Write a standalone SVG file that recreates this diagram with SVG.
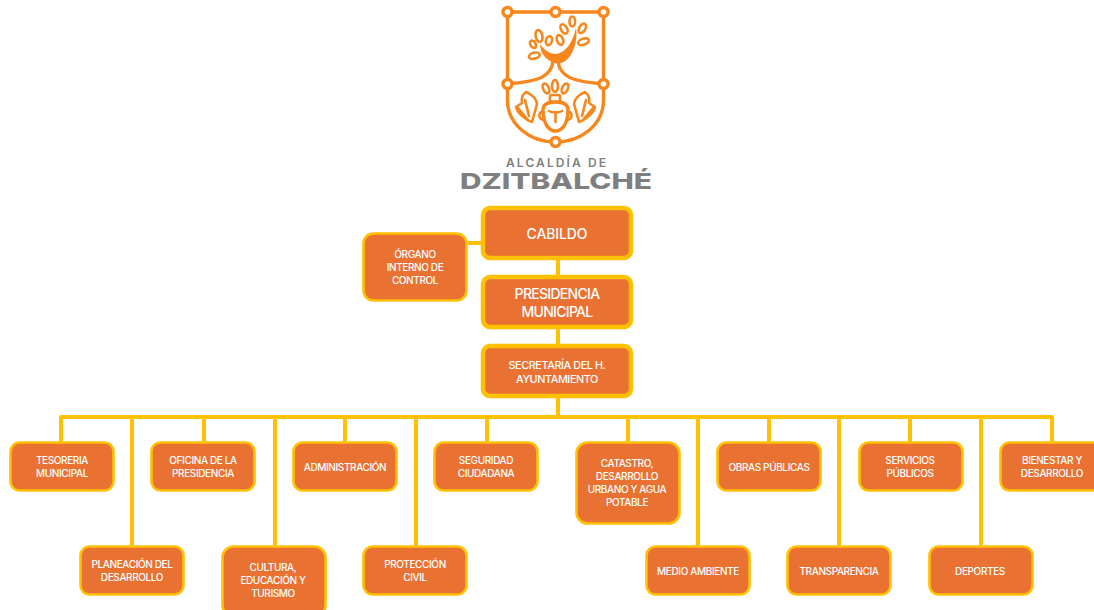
<svg xmlns="http://www.w3.org/2000/svg" width="1094" height="610" viewBox="0 0 1094 610">
<style>
.b{fill:#e97132;stroke:#ffc000;stroke-width:2.6}
.h{stroke-width:4.5}
.t{fill:#fff;font-family:Inter,"Liberation Sans",sans-serif;font-size:10px;font-weight:500;letter-spacing:-.38px;text-anchor:middle}
.m{font-size:10.8px;letter-spacing:-.4px}
.l{font-size:14px;letter-spacing:-.7px}
.c{fill:none;stroke:#ffc000;stroke-width:4}
.o{fill:none;stroke:#f7871d;stroke-width:3.4;stroke-linecap:round;stroke-linejoin:round}
.f{stroke-width:2.6}
.s{fill:#f7871d;stroke:none}
.d{fill:#fff;stroke:#f7871d;stroke-width:3.4}
.g{fill:#7f7f7f;font-family:Inter,"Liberation Sans",sans-serif;text-anchor:middle}
</style>
<rect width="1094" height="610" fill="#fff"/>
<g id="logo">
<path class="o" d="M507.500 84V12H603.500V84V100C603.500 124 582 142 555.500 142C529 142 507.500 124 507.500 100V84"/>
<path class="o" d="M507.500 84C530 82 552 80 553 60M603.500 84C581 82 559 80 558 60"/>
<path class="s" d="M540 44C544 50 550 54 556 54C565 53 572 44 576 28C579 44 569 67 555 63C547 61 540 54 540 44Z"/>
<g class="o f">
<ellipse cx="572.300" cy="21.500" rx="2.800" ry="5"/>
<ellipse cx="564" cy="29" rx="3" ry="5" transform="rotate(-30 564 29)"/>
<ellipse cx="582.300" cy="28.300" rx="3" ry="5.200" transform="rotate(30 582.300 28.300)"/>
<ellipse cx="583.500" cy="41.700" rx="3" ry="5.500" transform="rotate(70 583.500 41.700)"/>
<ellipse cx="560" cy="40" rx="3" ry="5" transform="rotate(-20 560 40)"/>
<ellipse cx="549" cy="40.700" rx="3" ry="4.600" transform="rotate(15 549 40.700)"/>
<ellipse cx="539" cy="36" rx="3.400" ry="6" transform="rotate(-10 539 36)"/>
<ellipse cx="533" cy="44.300" rx="2.600" ry="4" transform="rotate(-30 533 44.300)"/>
<ellipse cx="534.300" cy="55.700" rx="3" ry="5.500" transform="rotate(75 534.300 55.700)"/>
<ellipse cx="555" cy="86" rx="3" ry="6"/>
<ellipse cx="546" cy="88.500" rx="2.800" ry="5.200" transform="rotate(-25 546 88.500)"/>
<ellipse cx="565" cy="88.500" rx="2.800" ry="5.200" transform="rotate(25 565 88.500)"/>
<rect x="550" y="95" width="10" height="7" rx="2"/>
<path d="M526 92C533 95 537 100 537 104L532 122C525 120 517 112 516 107L522 103C521 98 523 94 526 92ZM525 100L529 116M518 108L528 120"/>
<path d="M585 92C578 95 574 100 574 104L579 122C586 120 594 112 595 107L589 103C590 98 588 94 585 92ZM586 100L582 116M593 108L583 120"/>
</g>
<path class="o" d="M543 110C543 104 549 102 555.500 102C562 102 568 104 568 110C568 124 562 131 555.500 131C549 131 543 124 543 110Z"/>
<path class="o f" d="M543 112C538 111 538 120 544 120M568 112C573 111 573 120 567 120M549 111C552 113 559 113 562 111M555.500 112V122"/>
<circle class="d" cx="507.500" cy="12" r="4.500"/><circle class="d" cx="555.500" cy="12" r="4.500"/><circle class="d" cx="603.500" cy="12" r="4.500"/>
<circle class="d" cx="507.500" cy="84" r="4.500"/><circle class="d" cx="603.500" cy="84" r="4.500"/><circle class="d" cx="555.500" cy="142" r="4.500"/>
<text class="g" x="556" y="166.500" font-size="12" font-weight="600" textLength="100" lengthAdjust="spacing">ALCALDÍA DE</text>
<text class="g" x="556" y="188.500" font-size="22" font-weight="800" textLength="192" lengthAdjust="spacingAndGlyphs">DZITBALCHÉ</text>
</g>
<g id="connectors">
<path class="c" d="M558 258V346M558 396V417M468 243H484"/>
<path class="c" stroke-linejoin="round" d="M61 442V417H1052V442"/>
<path class="c" d="M132 417V546M204 417V442M275 417V546M345 417V442M416 417V546M487 417V442M628 417V442M698 417V546M769 417V442M839 417V546M910 417V442M981 417V546"/>
</g>
<g id="n-cabildo"><rect class="b h" x="483" y="208" width="148" height="50" rx="7"/><text class="t l" x="557" y="239" style="letter-spacing:-.1px">CABILDO</text></g>
<g id="n-presidencia"><rect class="b h" x="483" y="277" width="148" height="50" rx="7"/><text class="t l" x="557" y="299">PRESIDENCIA</text><text class="t l" x="557" y="317">MUNICIPAL</text></g>
<g id="n-secretaria"><rect class="b h" x="483" y="346" width="148" height="50" rx="7"/><text class="t m" x="557" y="369">SECRETARÍA DEL H.</text><text class="t m" x="557" y="383">AYUNTAMIENTO</text></g>
<g id="n-organo"><rect class="b" x="363.500" y="233.500" width="103" height="67" rx="10"/><text class="t" x="415" y="258">ÓRGANO</text><text class="t" x="415" y="271">INTERNO DE</text><text class="t" x="415" y="284">CONTROL</text></g>
<g id="n-tesoreria"><rect class="b" x="10.500" y="442.500" width="103" height="48" rx="9"/><text class="t" x="62" y="464">TESORERIA</text><text class="t" x="62" y="477">MUNICIPAL</text></g>
<g id="n-oficina"><rect class="b" x="151.500" y="442.500" width="103" height="48" rx="9"/><text class="t" x="203" y="464">OFICINA DE LA</text><text class="t" x="203" y="477">PRESIDENCIA</text></g>
<g id="n-administracion"><rect class="b" x="293.500" y="442.500" width="103" height="48" rx="9"/><text class="t" x="345" y="470.500">ADMINISTRACIÓN</text></g>
<g id="n-seguridad"><rect class="b" x="434.500" y="442.500" width="103" height="48" rx="9"/><text class="t" x="486" y="464">SEGURIDAD</text><text class="t" x="486" y="477">CIUDADANA</text></g>
<g id="n-catastro"><rect class="b" x="576.500" y="442.500" width="103" height="81" rx="11"/><text class="t" x="627" y="467">CATASTRO,</text><text class="t" x="627" y="480">DESARROLLO</text><text class="t" x="627" y="493">URBANO Y AGUA</text><text class="t" x="627" y="506">POTABLE</text></g>
<g id="n-obras"><rect class="b" x="717.500" y="442.500" width="103" height="48" rx="9"/><text class="t" x="769" y="470.500">OBRAS PÚBLICAS</text></g>
<g id="n-servicios"><rect class="b" x="859.500" y="442.500" width="103" height="48" rx="9"/><text class="t" x="910" y="464">SERVICIOS</text><text class="t" x="910" y="477">PÚBLICOS</text></g>
<g id="n-bienestar"><rect class="b" x="1000.500" y="442.500" width="103" height="48" rx="9"/><text class="t" x="1052" y="464">BIENESTAR Y</text><text class="t" x="1052" y="477">DESARROLLO</text></g>
<g id="n-planeacion"><rect class="b" x="80.500" y="546.500" width="103" height="48" rx="9"/><text class="t" x="132" y="568">PLANEACIÓN DEL</text><text class="t" x="132" y="581">DESARROLLO</text></g>
<g id="n-cultura"><rect class="b" x="222.500" y="546.500" width="103" height="70" rx="11"/><text class="t" x="273" y="571">CULTURA,</text><text class="t" x="273" y="584">EDUCACIÓN Y</text><text class="t" x="273" y="597">TURISMO</text></g>
<g id="n-proteccion"><rect class="b" x="363.500" y="546.500" width="103" height="48" rx="9"/><text class="t" x="415" y="568">PROTECCIÓN</text><text class="t" x="415" y="581">CIVIL</text></g>
<g id="n-medio"><rect class="b" x="646.500" y="546.500" width="103" height="48" rx="9"/><text class="t" x="698" y="574.500">MEDIO AMBIENTE</text></g>
<g id="n-transparencia"><rect class="b" x="787.500" y="546.500" width="103" height="48" rx="9"/><text class="t" x="839" y="574.500">TRANSPARENCIA</text></g>
<g id="n-deportes"><rect class="b" x="929.500" y="546.500" width="103" height="48" rx="9"/><text class="t" x="980" y="574.500">DEPORTES</text></g>
</svg>
